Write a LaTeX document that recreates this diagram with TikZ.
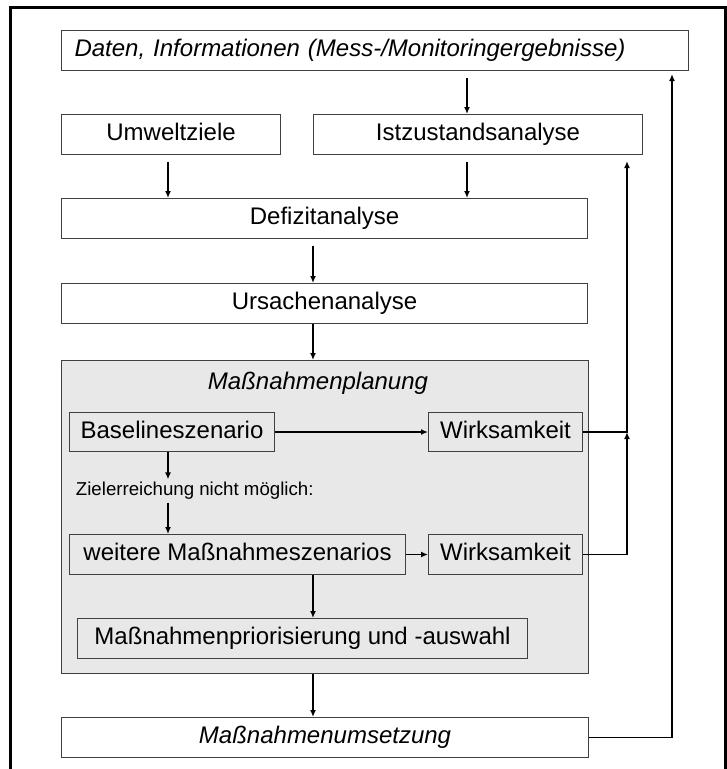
\documentclass[tikz,border=0pt]{standalone}
\usepackage{fontspec}
\setmainfont{Liberation Sans}
\usetikzlibrary{arrows.meta}

\definecolor{planGray}{RGB}{232,232,232}
\def\u{0.75pt}

\begin{document}
\begin{tikzpicture}[x=\u, y=-\u,
    box/.style={draw=black!75, line width=0.8pt, fill=white, anchor=north west,
        inner sep=0pt, text height=13pt, text depth=3.5pt, font=\fontsize{18}{22}\selectfont},
    inbox/.style={box, fill=planGray},
    grp/.style={draw=black!75, line width=0.8pt, fill=planGray, anchor=north west, inner sep=0pt},
    sz/.style 2 args={minimum width=#1*\u, minimum height=#2*\u},
    arr/.style={-{Latex[length=5.25pt,width=4.5pt]}, line width=1.1pt},
    gap/.style={shorten <=5pt},
]
\useasboundingbox (0,0) rectangle (727,769);

% outer frame
\draw[line width=2.25pt] (10,769) -- (10,7) -- (725,7) -- (725,769);

% columns of the connectors
\coordinate (colA) at (168,0);
\coordinate (colB) at (313,0);
\coordinate (colC) at (467,0);
\coordinate (colD) at (627,0);
\coordinate (colE) at (672,0);

% analysis
\node[box, sz={627}{40}, text width=601*\u, align=left] (daten) at (61,30)
    {\itshape Daten, Informationen (Mess-/Monitoringergebnisse)};
\node[box, sz={219}{40}] (umwelt) at (61,114) {Umweltziele};
\node[box, sz={329}{40}] (ist) at (313,114) {Istzustandsanalyse};
\node[box, sz={526}{40}] (defizit) at (61,198) {Defizitanalyse};
\node[box, sz={526}{40}] (ursache) at (61,283) {Ursachenanalyse};

% planning
\node[grp, sz={527}{313}] (plan) at (61,360) {};
\node[font=\fontsize{18}{22}\selectfont\itshape] (plantitle) at (318,383) {Maßnahmenplanung};
\node[inbox, sz={205}{39}] (base) at (69,412) {Baselineszenario};
\node[inbox, sz={154}{39}] (wirkA) at (428,412) {Wirksamkeit};
\node[anchor=west, inner sep=2pt, font=\fontsize{14}{17}\selectfont] (ziel) at (73,491)
    {Zielerreichung nicht möglich:};
\node[inbox, sz={336}{40}] (weitere) at (69,534) {weitere Maßnahmeszenarios};
\node[inbox, sz={154}{40}] (wirkB) at (428,534) {Wirksamkeit};
\node[inbox, sz={450}{40}] (prior) at (77,618) {Maßnahmenpriorisierung und -auswahl};

% implementation
\node[box, sz={527}{40}] (umsetz) at (61,717) {\itshape Maßnahmenumsetzung};

% connectors
\draw[arr, gap] (daten.south -| colC) -- (ist.north -| colC);
\draw[arr, gap] (umwelt.south -| colA) -- (defizit.north -| colA);
\draw[arr, gap] (ist.south -| colC) -- (defizit.north -| colC);
\draw[arr, gap] (defizit.south -| colB) -- (ursache.north -| colB);
\draw[arr] (ursache.south -| colB) -- (plan.north -| colB);
\draw[arr] (base.east) -- (wirkA.west);
\draw[arr] (base.south -| colA) -- (ziel.north -| colA);
\draw[arr] (ziel.south -| colA) -- (weitere.north -| colA);
\draw[arr] (weitere.east) -- (wirkB.west);
\draw[arr] (weitere.south -| colB) -- (prior.north -| colB);
\draw[arr] (plan.south -| colB) -- (umsetz.north -| colB);

% feedback
\coordinate (jA) at (wirkA.east -| colD);
\draw[arr] (wirkB.east) -| (jA);
\draw[arr, shorten >=4.5pt] (wirkA.east) -- (jA) -- (ist.south -| colD);
\draw[arr, shorten >=2.25pt] (umsetz.east) -| (daten.south -| colE);
\end{tikzpicture}
\end{document}
